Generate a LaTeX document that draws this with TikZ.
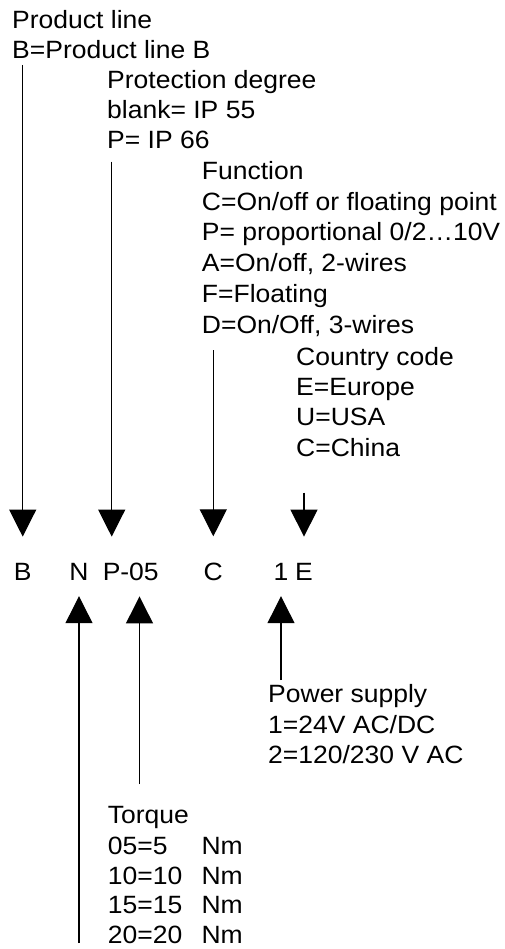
\documentclass[tikz,border=0pt]{standalone}
\usepackage{fontspec}
\setmainfont{Liberation Sans}
\usetikzlibrary{arrows.meta}

\tikzset{
    txt/.style={anchor=base west, inner sep=0pt, xscale=1.06, font=\fontsize{25}{30}\selectfont},
    code/.style={anchor=base, inner sep=0pt, xscale=1.06, font=\fontsize{25}{30}\selectfont},
    arr/.style={-{Triangle[length=27pt, width=27pt]}, line width=1.2pt}
}

\begin{document}
\begin{tikzpicture}[x=1pt, y=-1pt]
    %--------------------%
    % Parameters
    %--------------------%
    \def\codey{580}
    \def\downgap{26pt}
    \def\upgap{16pt}

    \useasboundingbox (0,0) rectangle (505,949);

    %--------------------%
    % Product line
    %--------------------%
    \node[txt] (prod1) at (12, 28.3) {Product line};
    \node[txt] (prod2) at (12, 58.5) {B=Product line B};

    %--------------------%
    % Protection degree
    %--------------------%
    \node[txt] (prot1) at (107, 89) {Protection degree};
    \node[txt] (prot2) at (107, 119) {blank= IP 55};
    \node[txt] (prot3) at (107, 149) {P= IP 66};

    %--------------------%
    % Function
    %--------------------%
    \node[txt] (func1) at (201.7, 180) {Function};
    \node[txt] (func2) at (201.7, 211) {C=On/off or floating point};
    \node[txt] (func3) at (201.7, 241) {P= proportional 0/2…10V};
    \node[txt] (func4) at (201.7, 271.5) {A=On/off, 2-wires};
    \node[txt] (func5) at (201.7, 302) {F=Floating};
    \node[txt] (func6) at (201.7, 333) {D=On/Off, 3-wires};

    %--------------------%
    % Country code
    %--------------------%
    \node[txt] (ctry1) at (296, 365) {Country code};
    \node[txt] (ctry2) at (296, 395) {E=Europe};
    \node[txt] (ctry3) at (296, 425.5) {U=USA};
    \node[txt] (ctry4) at (296, 456) {C=China};

    %--------------------%
    % Type code
    %--------------------%
    \node[code] (codeB) at (22.7, \codey) {B};
    \node[code] (codeN) at (79, \codey) {N};
    \node[code] (codeP) at (111.7, \codey) {P};
    \node[code] (codeT) at (139.5, \codey) {-05};
    \node[code] (codeC) at (213.3, \codey) {C};
    \node[code] (codeV) at (281, \codey) {1};
    \node[code] (codeE) at (304, \codey) {E};

    %--------------------%
    % Power supply
    %--------------------%
    \node[txt] (pwr1) at (268, 702.7) {Power supply};
    \node[txt] (pwr2) at (268, 733) {1=24V AC/DC};
    \node[txt] (pwr3) at (268, 763) {2=120/230 V AC};

    %--------------------%
    % Torque
    %--------------------%
    \node[txt] (torq1) at (107.7, 823.5) {Torque};
    \node[txt] (torq2) at (107.7, 854) {05=5};
    \node[txt] (torq3) at (107.7, 884) {10=10};
    \node[txt] (torq4) at (107.7, 913.5) {15=15};
    \node[txt] (torq5) at (107.7, 943) {20=20};
    \node[txt] (nm2) at (201.3, 854) {Nm};
    \node[txt] (nm3) at (201.3, 884) {Nm};
    \node[txt] (nm4) at (201.3, 913.5) {Nm};
    \node[txt] (nm5) at (201.3, 943) {Nm};

    %--------------------%
    % Arrows
    %--------------------%
    \coordinate (topB) at (22.7, 65);
    \coordinate (topP) at (111.7, 161.7);
    \coordinate (topC) at (213.3, 350);
    \coordinate (topE) at (304, 492.7);
    \coordinate (botN) at (79, 943);
    \coordinate (botT) at (139.5, 784);
    \coordinate (botV) at (281, 680);

    % from above
    \draw[arr, shorten >=\downgap] (topB) -- (codeB);
    \draw[arr, shorten >=\downgap] (topP) -- (codeP);
    \draw[arr, shorten >=\downgap] (topC) -- (codeC);
    \draw[arr, shorten >=\downgap] (topE) -- (codeE);

    % from below
    \draw[arr, shorten >=\upgap] (botN) -- (codeN);
    \draw[arr, shorten >=\upgap] (botT) -- (codeT);
    \draw[arr, shorten >=\upgap] (botV) -- (codeV);
\end{tikzpicture}
\end{document}
